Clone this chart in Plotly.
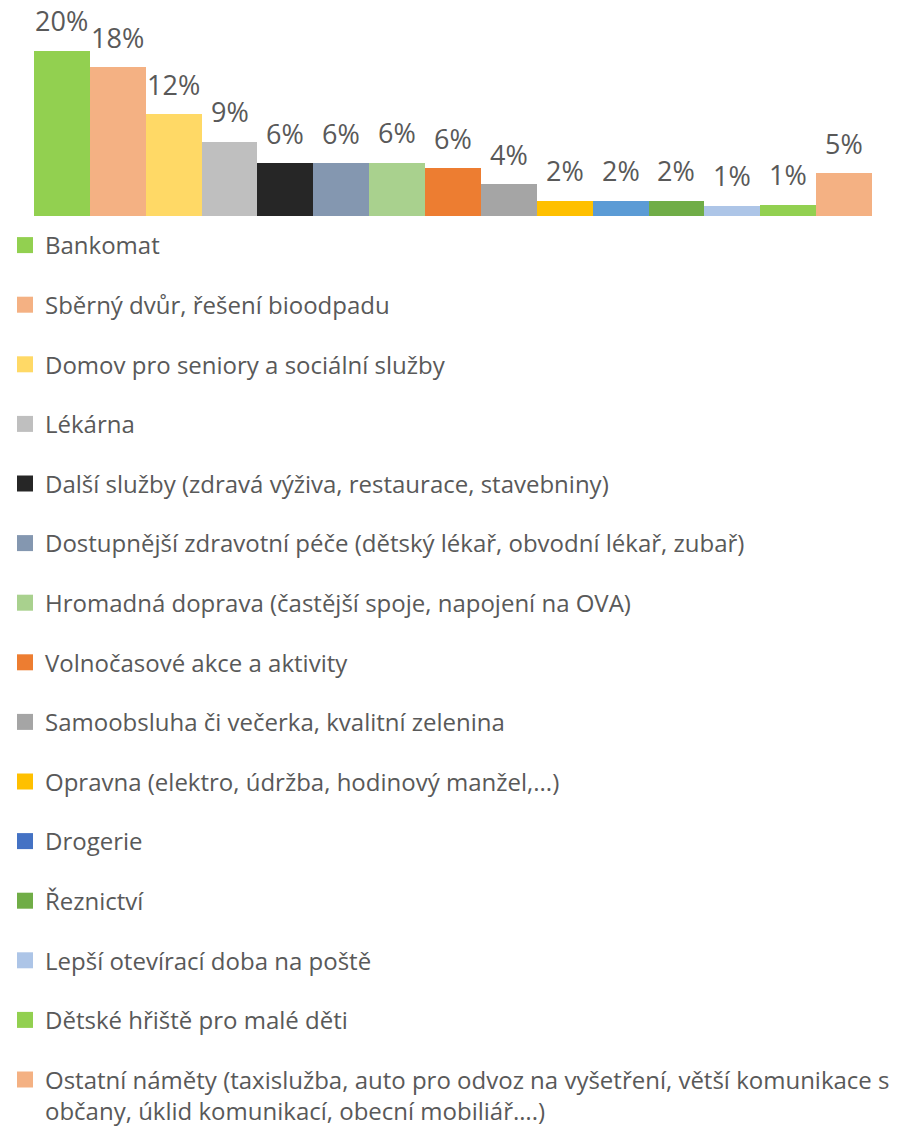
import plotly.graph_objects as go

categories = [
    "Bankomat",
    "Sběrný dvůr, řešení bioodpadu",
    "Domov pro seniory a sociální služby",
    "Lékárna",
    "Další služby (zdravá výživa, restaurace, stavebniny)",
    "Dostupnější zdravotní péče (dětský lékař, obvodní lékař, zubař)",
    "Hromadná doprava (častější spoje, napojení na OVA)",
    "Volnočasové akce a aktivity",
    "Samoobsluha či večerka, kvalitní zelenina",
    "Opravna (elektro, údržba, hodinový manžel,...)",
    "Drogerie",
    "Řeznictví",
    "Lepší otevírací doba na poště",
    "Dětské hřiště pro malé děti",
    "Ostatní náměty (taxislužba, auto pro odvoz na vyšetření, větší komunikace s<br>občany, úklid komunikací, obecní mobiliář….)",
]
values = [20.0, 18.0, 12.3, 9.0, 6.4, 6.4, 6.45, 5.8, 3.9, 1.9, 1.9, 1.9, 1.3, 1.4, 5.2]
labels = ["20%", "18%", "12%", "9%", "6%", "6%", "6%", "6%", "4%", "2%", "2%", "2%", "1%", "1%", "5%"]
bar_colors = ["#92D050", "#F4B183", "#FFD966", "#BFBFBF", "#262626", "#8497B0", "#A9D18E",
              "#ED7D31", "#A5A5A5", "#FFC000", "#5B9BD5", "#70AD47", "#ADC5E7", "#92D050", "#F4B183"]
legend_colors = ["#92D050", "#F4B183", "#FFD966", "#BFBFBF", "#262626", "#8497B0", "#A9D18E",
                 "#ED7D31", "#A5A5A5", "#FFC000", "#4472C4", "#70AD47", "#ADC5E7", "#92D050", "#F4B183"]

W, H = 907, 1127
FONT = "Open Sans"
TXT = "#595959"
ML, MR = 26, 43
PLOT_W = W - ML - MR

fig = go.Figure()
xs = list(range(len(categories)))
fig.add_trace(go.Bar(x=xs, y=values, marker=dict(color=bar_colors, line=dict(width=0)),
                     showlegend=False, hoverinfo="skip"))

for i, (name, col) in enumerate(zip(categories, legend_colors)):
    fig.add_trace(go.Scatter(x=[None], y=[None], mode="markers", name=name,
                             legendgroup=f"g{i}",
                             marker=dict(symbol="square", size=16, color=col, line=dict(width=0))))

for x, v, t in zip(xs, values, labels):
    fig.add_annotation(x=x, y=v, text=t, showarrow=False, xanchor="center", yanchor="bottom",
                       yshift=10, borderpad=0, font=dict(family=FONT, size=27, color=TXT))

fig.update_layout(
    width=W, height=H,
    margin=dict(l=ML, r=MR, t=0, b=0, autoexpand=False),
    paper_bgcolor="white", plot_bgcolor="white",
    bargap=0,
    xaxis=dict(visible=False, range=[-0.5, len(categories) - 0.5]),
    yaxis=dict(visible=False, range=[0, 25], domain=[1 - 208 / H, 1 - 0.5 / H]),
    showlegend=True,
    legend=dict(
        orientation="v", x=(-3 - ML) / PLOT_W, xanchor="left", y=1 - 215 / H, yanchor="top",
        font=dict(family=FONT, size=24, color=TXT),
        tracegroupgap=25.4, itemsizing="trace", valign="top",
        bgcolor="rgba(0,0,0,0)",
    ),
)

fig.write_html("out.html")
